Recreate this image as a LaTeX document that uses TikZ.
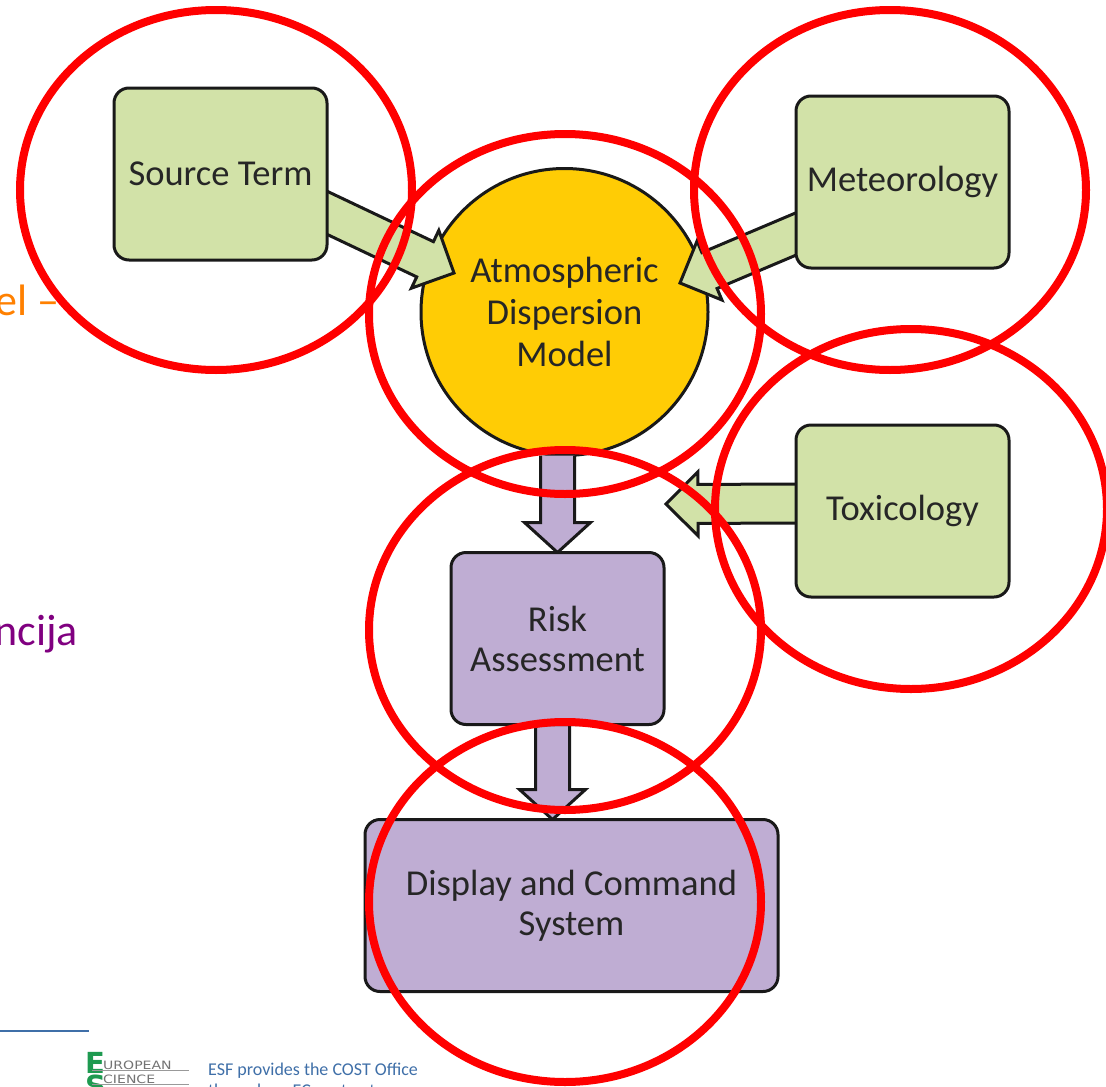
\documentclass[tikz,border=0pt]{standalone}
\usepackage{fontspec}
\usepackage{graphicx}
\setmainfont{Carlito}
\newfontfamily\logofont{DejaVu Sans}
\usetikzlibrary{positioning,calc,shapes.geometric}
\pgfdeclarelayer{disklayer}
\pgfdeclarelayer{arrowlayer}
\pgfsetlayers{disklayer,arrowlayer,main}
\definecolor{boxgreen}{HTML}{D2E2A8}
\definecolor{boxpurple}{HTML}{BFADD3}
\definecolor{boxyellow}{HTML}{FFCC05}
\definecolor{ringred}{HTML}{FF0000}
\definecolor{footblue}{HTML}{3F6FA8}
\definecolor{logogreen}{HTML}{1E9A50}
\definecolor{sideorange}{HTML}{FF8000}
\definecolor{sidepurple}{HTML}{800080}
\tikzset{
  gbox/.style={rectangle, rounded corners=15pt, draw=black!90, line width=3pt, fill=boxgreen, text=black!85,
    minimum width=213pt, minimum height=172pt, outer sep=0pt, align=center, font=\fontsize{36.5}{40}\selectfont},
  pbox/.style={gbox, fill=boxpurple},
  ydisk/.style={circle, draw=black!90, line width=3pt, fill=boxyellow, text=black!85, minimum size=287pt, inner sep=0pt,
    outer sep=0pt, align=center, font=\fontsize{36.5}{42}\selectfont},
  ring/.style={ellipse, draw=ringred, line width=8pt, minimum width=392pt, minimum height=360pt, inner sep=0pt},
  % #1 half width of the tail, #2 half width of the head, #3 length of the head, #4 tail pushed back
  bigarrow/.style n args={4}{draw=black!90, line width=3pt, line join=miter, to path={
    ($(\tikztostart)!-#4!(\tikztotarget)!#1!90:(\tikztotarget)$)
    -- ($($(\tikztotarget)!#3!(\tikztostart)$)!#1!-90:(\tikztostart)$)
    -- ($($(\tikztotarget)!#3!(\tikztostart)$)!#2!-90:(\tikztostart)$)
    -- (\tikztotarget)
    -- ($($(\tikztotarget)!#3!(\tikztostart)$)!#2!90:(\tikztostart)$)
    -- ($($(\tikztotarget)!#3!(\tikztostart)$)!#1!90:(\tikztostart)$)
    -- ($(\tikztostart)!-#4!(\tikztotarget)!#1!-90:(\tikztotarget)$)}},
  garrow/.style={bigarrow={19.5pt}{32pt}{32pt}{14pt}, fill=boxgreen},
  parrow/.style={bigarrow={17pt}{33pt}{30pt}{0pt}, fill=boxpurple},
  foot/.style={font=\fontsize{18}{20}\selectfont, text=footblue, anchor=base west, inner sep=0pt},
  logol/.style={font=\logofont\fontsize{29}{29}\selectfont\bfseries, text=logogreen, anchor=base west, inner sep=0pt},
  logot/.style={font=\logofont\fontsize{11.5}{12}\selectfont, text=black!55, anchor=base west, inner sep=0pt},
  logorule/.style={draw=black!40, line width=1pt},
  sidetext/.style={font=\fontsize{44}{50}\selectfont, anchor=base east, inner sep=0pt}
}
\begin{document}
\begin{tikzpicture}[x=1pt,y=1pt,node distance=0mm]
\useasboundingbox (0,0) rectangle (1106,-1087);
\clip (0,0) rectangle (1106,-1087);

% text left over from the slide
\node (ORG) [sidetext, text=sideorange] at (60,-315) {el --};
\node (PUR) [sidetext, text=sidepurple] at (78,-645) {ncija};

% boxes
\node (SRC) [gbox] at (220.5,-174) {Source Term};
\begin{pgfonlayer}{disklayer}
\node (ADM) [ydisk, right=94pt of SRC, yshift=-138pt] {Atmospheric\\Dispersion\\Model};
\end{pgfonlayer}
\node (MET) [gbox, right=469pt of SRC, yshift=-8pt] {Meteorology};
\node (TOX) [gbox, below=157pt of MET] {Toxicology};
\node (RISK) [pbox, below=97pt of ADM, xshift=-7pt] {Risk\\Assessment};
\node (DISP) [pbox, minimum width=413pt, below=95pt of RISK, xshift=14pt] {Display and Command\\System};

% tips of the arrows
\coordinate (ADMw) at (454,-273);
\coordinate (ADMe) at (680,-283);
\coordinate (TOXtip) at (666,-504);
\coordinate (RISKout) at ($(RISK.south)+(-5,0)$);

\begin{pgfonlayer}{arrowlayer}
\draw[garrow] (SRC.-20) to (ADMw);
\draw[garrow] (MET.206) to (ADMe);
\draw[garrow] (TOX.176.8) to (TOXtip);
\draw[parrow] (RISK.north |- ADM.south) to (RISK.north);
\draw[parrow] (RISKout) to (RISKout |- DISP.north);
\end{pgfonlayer}

% footer
\coordinate (FOOTa) at (0,-1031);
\coordinate (FOOTb) at (89,-1031);
\draw[footblue, line width=1.3pt] (FOOTa) -- (FOOTb);
\node (LOGOe) [logol] at (85,-1073) {E};
\node (LOGOs) [logol] at (85,-1096) {S};
\node (LOGOu) [logot] at (103,-1069) {\scalebox{1.22}[1]{UROPEAN}};
\node (LOGOc) [logot] at (103,-1083) {\scalebox{1.22}[1]{CIENCE}};
\draw[logorule] (LOGOu.base west) ++(-11,-1) -- ++(97,0);
\draw[logorule] (LOGOc.base west) ++(-11,-1) -- ++(97,0);
\node (ESFa) [foot] at (208,-1075) {ESF provides the COST Office};
\node (ESFb) [foot] at (208,-1096) {through an EC contract};

% red rings
\node (RINGa) [ring] at (216,-190) {};
\node (RINGb) [ring] at (890,-190) {};
\node (RINGc) [ring] at (565,-314) {};
\node (RINGd) [ring] at (911,-509) {};
\node (RINGe) [ring] at (565,-630) {};
\node (RINGf) [ring] at (565,-902) {};
\end{tikzpicture}
\end{document}
